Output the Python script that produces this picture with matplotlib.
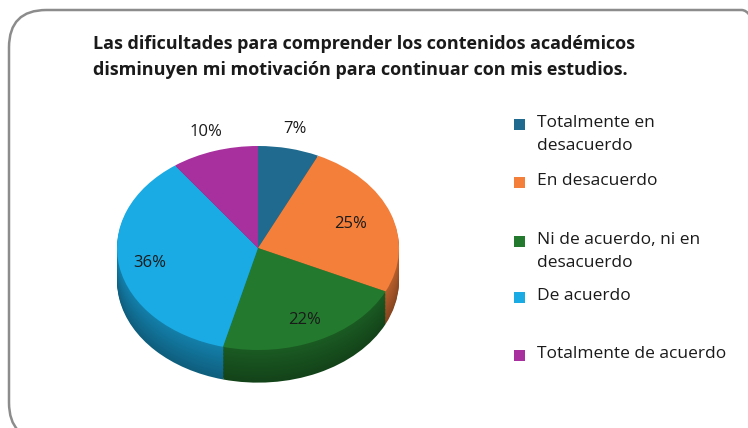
import numpy as np
import matplotlib.pyplot as plt
from matplotlib.patches import FancyBboxPatch, Rectangle
from matplotlib.colors import to_rgb

# data
categories = ['Totalmente en\ndesacuerdo', 'En desacuerdo',
              'Ni de acuerdo, ni en\ndesacuerdo', 'De acuerdo',
              'Totalmente de acuerdo']
values = [7, 25, 22, 36, 10]
pct_labels = ['7%', '25%', '22%', '36%', '10%']
colors = ['#1f6a8e', '#f47f3a', '#237a2e', '#1aabe4', '#a7309e']
title = ('Las dificultades para comprender los contenidos académicos\n'
         'disminuyen mi motivación para continuar con mis estudios.')

W, H = 748, 428
fig = plt.figure(figsize=(W / 100, H / 100), dpi=100)
fig.patch.set_facecolor('white')
font = 'Open Sans'

# rounded frame (runs off the right and bottom edges)
frame = FancyBboxPatch((9 / W, 1 - 440 / H), 770 / W, 430 / H,
                       boxstyle='round,pad=0,rounding_size=0.05',
                       transform=fig.transFigure, facecolor='none',
                       edgecolor='#8c8c8c', linewidth=1.8, mutation_aspect=W / H)
fig.patches.append(frame)

# pie axes: 1 unit x = 141 px, 1 unit y = 102 px, center at (258, 248)
ux, uy = 141, 102
cx, cy = 258, H - 248
xl, yl = (-1.5, 1.5), (-1.6, 1.3)
ax = fig.add_axes([(cx + xl[0] * ux) / W, (cy + yl[0] * uy) / H,
                   (xl[1] - xl[0]) * ux / W, (yl[1] - yl[0]) * uy / H])

# side (depth) layers
depth = 0.32
nlay = 24
for i in range(nlay, 0, -1):
    d = depth * i / nlay
    shade = 0.55 + 0.2 * (1 - i / nlay)
    side = [tuple(c * shade for c in to_rgb(col)) for col in colors]
    ax.pie(values, colors=side, startangle=90, counterclock=False,
           center=(0, -d), radius=1, frame=True,
           wedgeprops=dict(linewidth=0))

wedges, _ = ax.pie(values, colors=colors, startangle=90, counterclock=False,
                   center=(0, 0), radius=1, frame=True,
                   wedgeprops=dict(linewidth=0))
ax.set_xlim(*xl)
ax.set_ylim(*yl)
ax.set_aspect('auto')
ax.axis('off')

dist = [1.2, 0.7, 0.78, 0.78, 1.2]
for w, lab, r in zip(wedges, pct_labels, dist):
    ang = np.deg2rad((w.theta1 + w.theta2) / 2)
    ax.text(r * np.cos(ang), r * np.sin(ang), lab, ha='center', va='center',
            fontsize=12, family=font, color='#1a1a1a')

# title
fig.text(93 / W, 1 - 35 / H, title, ha='left', va='top', fontsize=13,
         fontweight='bold', family=font, color='#1a1a1a', linespacing=1.55)

# legend
leg_y = [125, 183, 242, 298, 356]
for col, lab, y in zip(colors, categories, leg_y):
    fig.patches.append(Rectangle((514 / W, 1 - (y + 5) / H), 11 / W, 11 / H,
                                 transform=fig.transFigure, facecolor=col,
                                 edgecolor='none'))
    fig.text(537 / W, 1 - (y - 10) / H, lab, ha='left', va='top', fontsize=12.5,
             family=font, color='#1a1a1a', linespacing=1.55)

fig.savefig('out.png', dpi=100)
